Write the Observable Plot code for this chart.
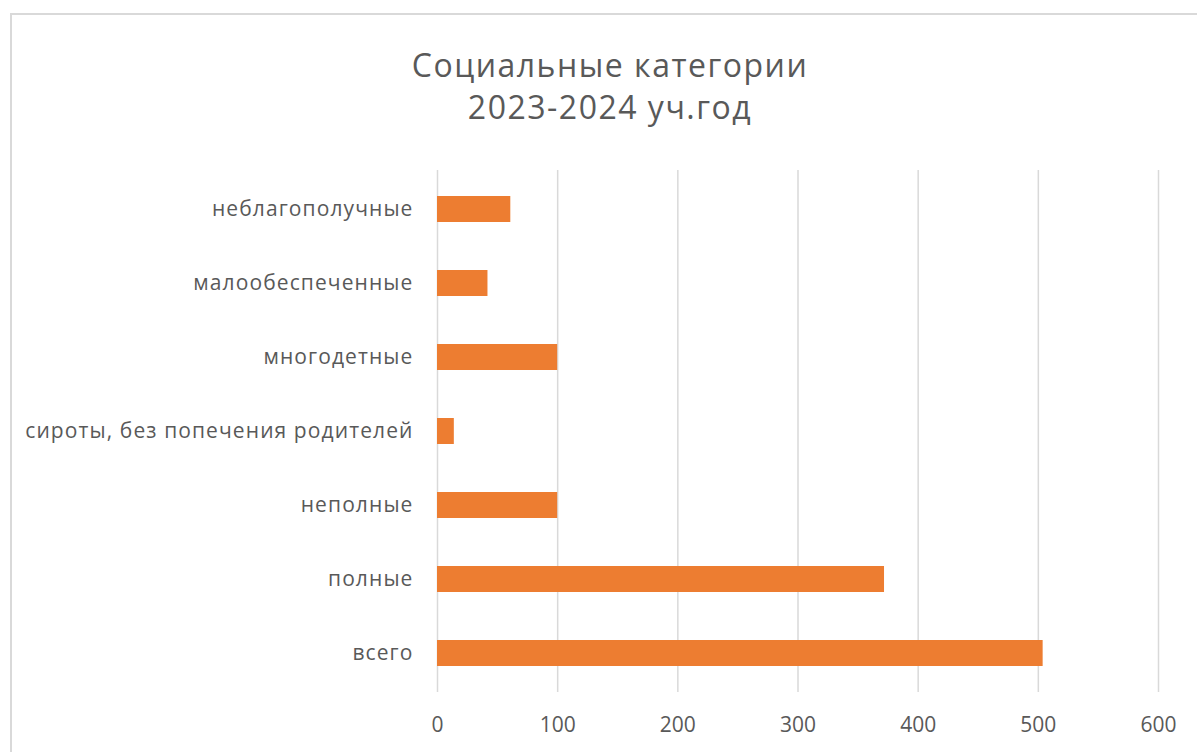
<!DOCTYPE html>
<html>
<head>
<meta charset="utf-8">
<script src="https://cdn.jsdelivr.net/npm/d3@7"></script>
<script src="https://cdn.jsdelivr.net/npm/@observablehq/plot@0.6"></script>
<style>
  body { margin: 0; background: #fff; width: 1197px; height: 752px; overflow: hidden; position: relative; font-family: "Open Sans", sans-serif; }
  #frame { position: absolute; left: 10px; top: 13px; width: 1300px; height: 900px; border: 2px solid #d9d9d9; box-sizing: border-box; }
  #title { position: absolute; left: 0; top: 44px; width: 1220px; text-align: center; color: #595959; font-size: 32px; line-height: 42px; letter-spacing: 1.5px; }
  #chart { position: absolute; left: 0; top: 150px; }
  #chart svg g[aria-label="y-axis tick label"] text { letter-spacing: 1.1px; }
</style>
</head>
<body>
<div id="frame"></div>
<div id="title">Социальные категории<br>2023-2024 уч.год</div>
<div id="chart"></div>
<script>
const categories = ["всего", "полные", "неполные", "сироты, без попечения родителей", "многодетные", "малообеспеченные", "неблагополучные"];
const values = [504, 372, 100, 14, 100, 42, 61];
const xTicks = [0, 100, 200, 300, 400, 500, 600];

const data = categories.map((c, i) => ({category: c, value: values[i]}));

const chart = Plot.plot({
  width: 1197,
  height: 602,
  marginTop: 20,
  marginBottom: 60,
  marginLeft: 437,
  marginRight: 39,
  style: { fontFamily: "Open Sans", fontSize: "20px", color: "#595959", background: "transparent", overflow: "visible" },
  x: { domain: [0, 600], label: null },
  y: { domain: categories.slice().reverse(), paddingInner: 0.652, paddingOuter: 0.326, label: null },
  marks: [
    Plot.gridX(xTicks, { stroke: "#d9d9d9", strokeOpacity: 1, strokeWidth: 1.5 }),
    Plot.barX(data, { x: "value", y: "category", fill: "#ED7D31" }),
    Plot.axisX(xTicks, { tickSize: 0, tickPadding: 25, fontSize: 21, tickFormat: d => String(d) }),
    Plot.axisY({ tickSize: 0, tickPadding: 24, fontSize: 21 })
  ]
});
document.getElementById("chart").appendChild(chart);
</script>
</body>
</html>
